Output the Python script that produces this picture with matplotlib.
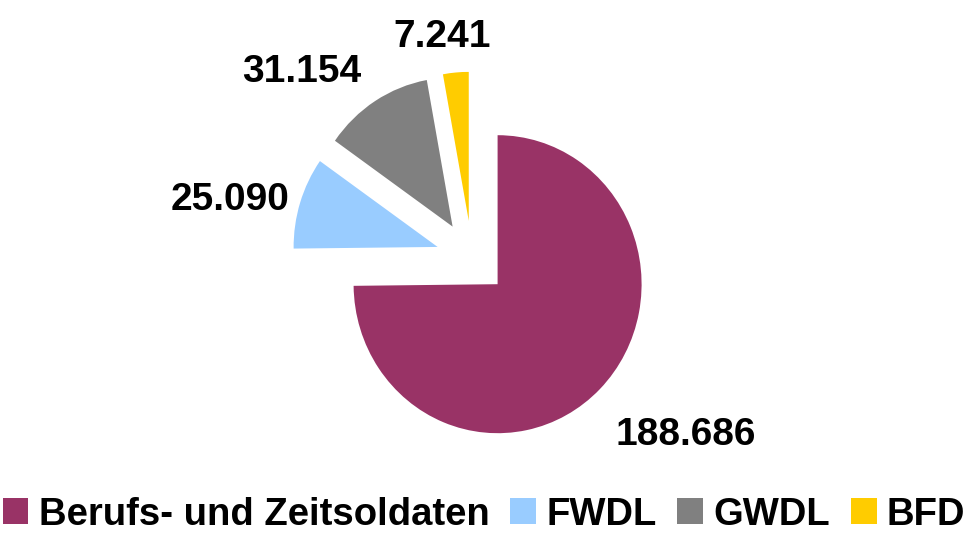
import matplotlib
matplotlib.use("Agg")
import matplotlib.pyplot as plt

plt.rcParams['font.family'] = ['Liberation Sans', 'DejaVu Sans']

# data (Bundeswehr personnel)
names = ['Berufs- und Zeitsoldaten', 'FWDL', 'GWDL', 'BFD']
values = [188686, 25090, 31154, 7241]
value_labels = ['188.686', '25.090', '31.154', '7.241']
colors = ['#993366', '#99CCFF', '#808080', '#FFCC00']

# label anchor points relative to pie centre (x in radii, y in radii)
label_pos = [(1.486, -1.255), (-1.681, 0.322), (-1.181, 1.181), (-0.208, 1.416)]

fig = plt.figure(figsize=(9.68, 5.35), dpi=100)
ax = fig.add_axes([0, 0, 1, 1])

wedges, _ = ax.pie(values, colors=colors, startangle=90, counterclock=False,
                   explode=[0.25] * len(values), radius=1.0,
                   wedgeprops=dict(linewidth=0))

for (x, y), txt in zip(label_pos, value_labels):
    ax.text(x, y, txt, ha='center', va='baseline', fontsize=28,
            fontweight='bold', color='black')

# pie is slightly taller than wide in the original
ax.set_aspect('auto')
ax.set_xlim(-472 / 144, 496 / 144)
ax.set_ylim(-277 / 149, 258 / 149)
ax.axis('off')

fig.legend(wedges, names, loc='center', bbox_to_anchor=(0.5, 0.038), ncol=4,
           frameon=False, prop=dict(size=27.5, weight='bold'),
           handlelength=0.67, handleheight=0.67, handletextpad=0.27,
           columnspacing=0.55, borderaxespad=0)

fig.savefig('out.png', dpi=100, facecolor='white')
